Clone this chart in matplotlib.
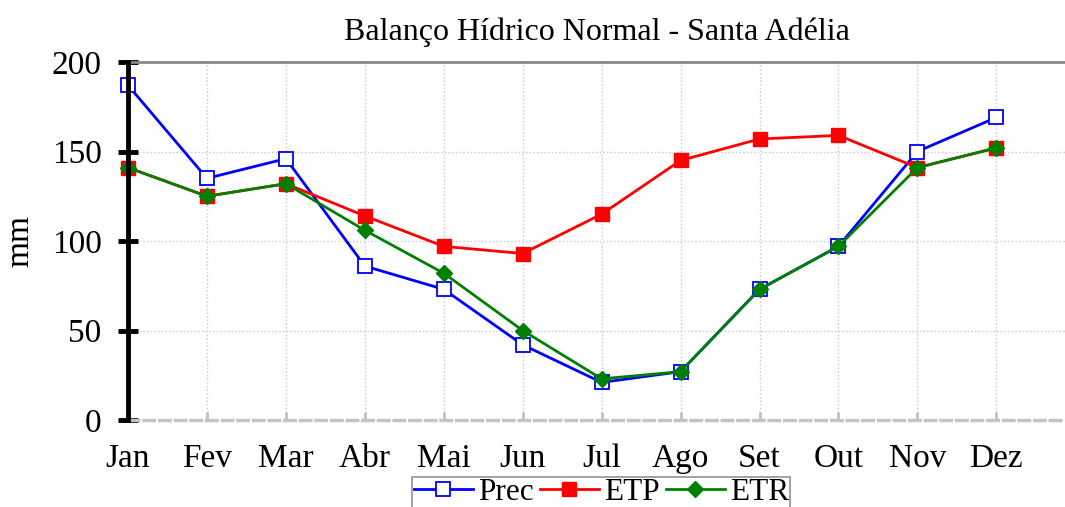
import matplotlib
matplotlib.use("Agg")
import matplotlib.pyplot as plt

meses = ["Jan", "Fev", "Mar", "Abr", "Mai", "Jun", "Jul", "Ago", "Set", "Out", "Nov", "Dez"]
prec = [187, 135, 146, 86, 73, 42, 21, 27, 73, 97, 150, 169]
etp = [141, 125, 132, 114, 97, 93, 115, 145, 157, 159, 141, 152]
etr = [141, 125, 132, 106, 82, 50, 23, 27, 73, 97, 141, 152]

plt.rcParams['font.family'] = ['Liberation Serif', 'DejaVu Serif']

fig = plt.figure(figsize=(10.65, 5.07), dpi=100)
ax = fig.add_axes([128 / 1065, 1 - 420 / 507, 1 - 128 / 1065, (420 - 62) / 507])

x = list(range(len(meses)))
ax.plot(x, prec, color="blue", lw=2, marker="s", ms=10, mfc="white",
        mec="blue", mew=1.3, label="Prec", zorder=3, clip_on=False)
ax.plot(x, etp, color="red", lw=2, marker="s", ms=10, mfc="red",
        mec="red", label="ETP", zorder=4, clip_on=False)
ax.plot(x, etr, color="green", lw=2, marker="D", ms=8.5, mfc="green",
        mec="green", label="ETR", zorder=5, clip_on=False)

ax.set_xlim(0, 11.87)
ax.set_ylim(0, 200)
ax.set_xticks(x)
ax.set_xticklabels(meses, fontsize=24, va="baseline")
ax.set_yticks([0, 50, 100, 150, 200])
ax.tick_params(axis="y", labelsize=24, direction="inout", length=14, width=3.5,
               color="black", pad=12)
ax.tick_params(axis="x", direction="in", length=6, width=2, color="#c0c0c0",
               pad=34)

ax.grid(True, color="#c8c8c8", ls=":", lw=1)
ax.axhline(200, color="#888888", lw=2, zorder=2, clip_on=False)

for s in ["top", "right"]:
    ax.spines[s].set_visible(False)
ax.spines["left"].set_linewidth(3.5)
ax.spines["left"].set_color("black")
ax.spines["left"].set_zorder(6)
ax.spines["bottom"].set_color("#c4c4c4")
ax.spines["bottom"].set_linewidth(2.5)
ax.spines["bottom"].set_linestyle((0, (3, 1.5)))

fig.text(20 / 1065, 1 - 241 / 507, "mm", fontsize=24, rotation=90,
         ha="center", va="center")
ax.set_title("Balanço Hídrico Normal - Santa Adélia", fontsize=23, pad=16)

leg = ax.legend(loc="upper center", bbox_to_anchor=(0.505, -0.158), ncol=3,
                fontsize=22.5, frameon=True, fancybox=False, edgecolor="#777777",
                handlelength=1.9, handletextpad=0.15, columnspacing=0.2,
                borderpad=0.05, borderaxespad=0)
leg.get_frame().set_linewidth(1.2)

fig.savefig("out.png", dpi=100)
